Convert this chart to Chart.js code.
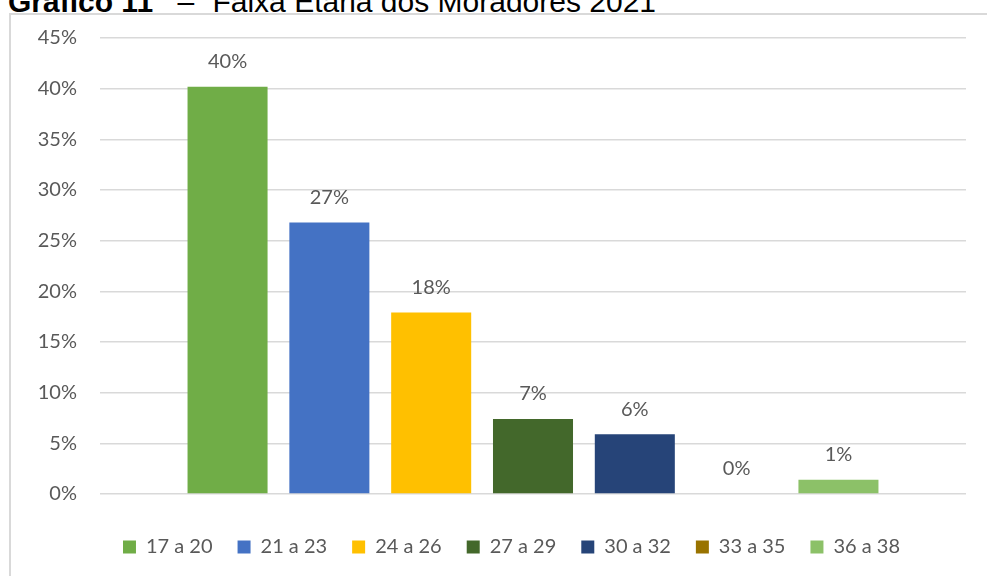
<!DOCTYPE html>
<html>
<head>
<meta charset="utf-8">
<script src="https://cdn.jsdelivr.net/npm/chart.js@4.4.1/dist/chart.umd.min.js"></script>
<style>
  body { margin: 0; background: #fff; width: 987px; height: 576px; overflow: hidden; position: relative; }
  #titulo {
    position: absolute; left: 8px; top: -13px; line-height: 30px; white-space: nowrap;
    font-family: "Liberation Sans", Arial, sans-serif; font-size: 30px; color: #000;
  }
  #titulo b { font-weight: bold; }
  #titulo .traco { margin: 0 10px 0 16px; }
  #moldura {
    position: absolute; left: 9px; top: 13px; width: 990px; height: 575px;
    border: 2px solid #d9d9d9;
  }
  #grafico { position: absolute; left: 0; top: 0; }
</style>
</head>
<body>
<div id="titulo"><b>Gráfico 11</b> <span class="traco">–</span> Faixa Etária dos Moradores 2021</div>
<div id="moldura">
  <canvas id="grafico" width="976" height="561"></canvas>
</div>
<script>
const faixas = ["17 a 20", "21 a 23", "24 a 26", "27 a 29", "30 a 32", "33 a 35", "36 a 38"];
const percentuais = [40.2, 26.8, 17.9, 7.4, 5.9, 0, 1.4];
const cores = ["#70ad47", "#4472c4", "#ffc000", "#43682b", "#264478", "#997300", "#8cc168"];
const ticksY = [0, 5, 10, 15, 20, 25, 30, 35, 40, 45];

const fonte = "Lato, 'Open Sans', sans-serif";
const cinza = "#595959";

// one dataset per age group, all in a single category
const datasets = faixas.map((faixa, i) => ({
  label: faixa,
  data: [percentuais[i]],
  backgroundColor: cores[i],
  borderWidth: 0,
  categoryPercentage: 0.823,
  barPercentage: 0.786
}));

// percent label above each bar
const rotulos = {
  id: "rotulos",
  afterDatasetsDraw(chart) {
    const ctx = chart.ctx;
    ctx.save();
    ctx.font = "20px " + fonte;
    ctx.fillStyle = cinza;
    ctx.textAlign = "center";
    ctx.textBaseline = "middle";
    chart.data.datasets.forEach((ds, i) => {
      const bar = chart.getDatasetMeta(i).data[0];
      ctx.fillText(Math.round(ds.data[0]) + "%", bar.x, bar.y - 25);
    });
    ctx.restore();
  }
};

// legend sits centred under the whole frame, not only the plot
const legendaDesloc = {
  id: "legendaDesloc",
  afterLayout(chart) {
    chart.legend.left += 23;
    chart.legend.right += 23;
  }
};

new Chart(document.getElementById("grafico"), {
  type: "bar",
  data: { labels: [""], datasets: datasets },
  plugins: [rotulos, legendaDesloc],
  options: {
    responsive: false,
    animation: false,
    layout: { padding: { top: 23, right: 21, left: 0, bottom: 9 } },
    plugins: {
      legend: {
        position: "bottom",
        labels: {
          boxWidth: 13,
          boxHeight: 13,
          padding: 25,
          color: cinza,
          font: { family: fonte, size: 20 }
        }
      },
      tooltip: { enabled: false }
    },
    scales: {
      x: {
        grid: { display: false },
        border: { display: false },
        ticks: { display: false },
        afterFit(s) { s.height = 18; }
      },
      y: {
        min: ticksY[0],
        max: ticksY[ticksY.length - 1],
        afterBuildTicks(s) { s.ticks = ticksY.map(v => ({ value: v })); },
        afterFit(s) {
          s.width = 89;
          // tick padding is horizontal only here
          s.paddingTop = 0;
          s.paddingBottom = 0;
        },
        border: { display: false },
        grid: { color: "#d9d9d9", lineWidth: 1.5, drawTicks: false },
        ticks: {
          padding: 23,
          color: cinza,
          font: { family: fonte, size: 20 },
          callback: v => v + "%"
        }
      }
    }
  }
});
</script>
</body>
</html>
